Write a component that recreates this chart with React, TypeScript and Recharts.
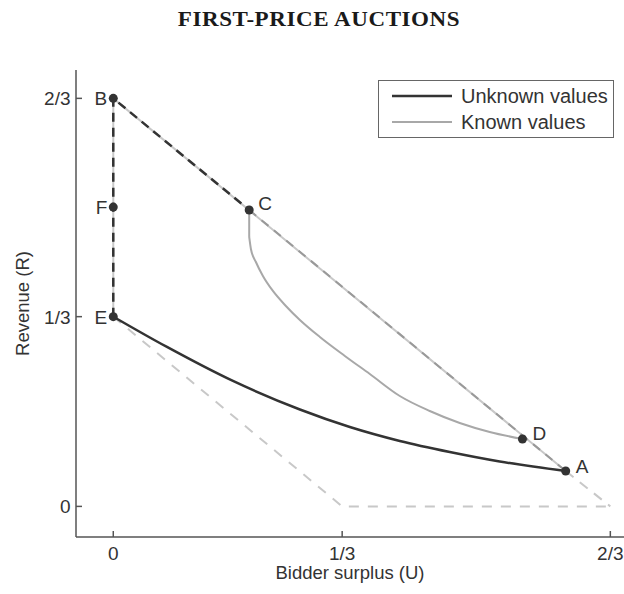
import React from 'react';
import { ComposedChart, Line, Scatter, XAxis, YAxis, Legend } from 'recharts';

// ---- data ----
const xTickValues = [0, 0.307, 2 / 3];
const xTickLabels = ['0', '1/3', '2/3'];
const yTickValues = [0, 0.31, 2 / 3];
const yTickLabels = ['0', '1/3', '2/3'];

// Unknown values: E -> A
const unknownU = [0, 0.072, 0.1605, 0.2503, 0.3173, 0.3843, 0.4513, 0.5183, 0.6068];
const unknownR = [0.31, 0.2605, 0.2049, 0.1583, 0.1297, 0.1069, 0.0889, 0.0734, 0.0578];

// Known values: drop below C, then curve to D
const knownDropU = [0.1823, 0.1823];
const knownDropR = [0.4843, 0.4402];
const knownU = [0.1823, 0.1846, 0.1913, 0.2007, 0.2141, 0.2315, 0.2503, 0.2771, 0.3106, 0.3441, 0.3843, 0.4245, 0.4647, 0.5049, 0.5488];
const knownR = [0.4402, 0.4206, 0.3993, 0.3765, 0.352, 0.3275, 0.3046, 0.2768, 0.2458, 0.2163, 0.1804, 0.1559, 0.1363, 0.1216, 0.1101];

// Known-values frontier E-B-A (solid, light)
const frontierU = [0, 0, 0.6068];
const frontierR = [0.31, 2 / 3, 0.0578];
// dark dashed E-B-C
const upperDashU = [0, 0, 0.1823];
const upperDashR = [0.31, 2 / 3, 0.4843];
// dashed C-A
const diagDashU = [0.1823, 0.6068];
const diagDashR = [0.4843, 0.0578];
// light dashed tail A -> (2/3, 0)
const tailU = [0.6068, 2 / 3];
const tailR = [0.0578, 0];
// light dashed lower bound E -> (1/3,0) -> (2/3,0)
const lowerU = [0, 0.307, 2 / 3];
const lowerR = [0.31, 0, 0];

const pointNames = ['B', 'F', 'E', 'C', 'D', 'A'];
const pointU = [0, 0, 0, 0.1823, 0.5488, 0.6068];
const pointR = [2 / 3, 0.489, 0.31, 0.4843, 0.1101, 0.0578];

const legendLabels = ['Unknown values', 'Known values'];

// ---- styles ----
const FONT = '"Liberation Sans", Arial, Helvetica, sans-serif';
const TEXT = '#333';
const DARK = '#333';
const KNOWN = '#a8a8a8';
const LIGHT = '#c8c8c8';
const AXIS = '#555';

const labelPlacement: Record<string, { dx: number; dy: number; anchor: string }> = {
  B: { dx: -6, dy: 7, anchor: 'end' },
  F: { dx: -6, dy: 7, anchor: 'end' },
  E: { dx: -6, dy: 7, anchor: 'end' },
  C: { dx: 9, dy: 0.5, anchor: 'start' },
  D: { dx: 10, dy: 1, anchor: 'start' },
  A: { dx: 10, dy: 2, anchor: 'start' },
};

const zip = (us: number[], rs: number[]) => us.map((u, i) => ({ u, r: rs[i] }));

const nearestIdx = (arr: number[], v: number) => {
  let best = 0;
  arr.forEach((a, i) => {
    if (Math.abs(a - v) < Math.abs(arr[best] - v)) best = i;
  });
  return best;
};

const XTick = (props: any) => {
  const { x, y, payload } = props;
  const i = nearestIdx(xTickValues, payload.value);
  return (
    <g>
      <line x1={x} y1={y} x2={x} y2={y - 6} stroke={AXIS} strokeWidth={1.5} />
      <text x={x} y={y + 23} textAnchor="middle" fontSize={19} fill={TEXT} fontFamily={FONT}>
        {xTickLabels[i]}
      </text>
    </g>
  );
};

const YTick = (props: any) => {
  const { x, y, payload } = props;
  const i = nearestIdx(yTickValues, payload.value);
  return (
    <g>
      <line x1={x} y1={y} x2={x + 6} y2={y} stroke={AXIS} strokeWidth={1.5} />
      <text x={x - 5.5} y={y + 7} textAnchor="end" fontSize={19} fill={TEXT} fontFamily={FONT}>
        {yTickLabels[i]}
      </text>
    </g>
  );
};

const PointShape = (props: any) => {
  const { cx, cy, payload } = props;
  const p = labelPlacement[payload.name];
  return (
    <g>
      <circle cx={cx} cy={cy} r={4.5} fill={DARK} />
      <text
        x={cx + p.dx}
        y={cy + p.dy}
        textAnchor={p.anchor as any}
        fontSize={19}
        fill={TEXT}
        fontFamily={FONT}
      >
        {payload.name}
      </text>
    </g>
  );
};

const YLabel = (props: any) => {
  const vb = props.viewBox || { x: 16, y: 70, width: 60, height: 467 };
  const cx = vb.x + 6;
  const cy = vb.y + vb.height / 2;
  return (
    <text
      x={cx}
      y={cy}
      transform={`rotate(-90 ${cx} ${cy})`}
      textAnchor="middle"
      dominantBaseline="central"
      fontSize={18.5}
      fill={TEXT}
      fontFamily={FONT}
    >
      Revenue (R)
    </text>
  );
};

const LegendBox = () => (
  <svg width={236} height={58} style={{ display: 'block' }}>
    <rect x={0.5} y={0.5} width={235} height={57} fill="#fff" stroke="#666" strokeWidth={1} />
    {legendLabels.map((lab, i) => (
      <g key={lab}>
        <line
          x1={14}
          x2={74}
          y1={16 + i * 26}
          y2={16 + i * 26}
          stroke={i === 0 ? DARK : KNOWN}
          strokeWidth={i === 0 ? 2.5 : 2}
        />
        <text x={83} y={23 + i * 26} fontSize={20} fill={TEXT} fontFamily={FONT}>
          {lab}
        </text>
      </g>
    ))}
  </svg>
);

export default function App() {
  const pointData = pointNames.map((name, i) => ({ name, u: pointU[i], r: pointR[i] }));
  return (
    <div style={{ position: 'absolute', left: 0, top: 0, width: 624, height: 594, background: '#fff' }}>
      <div
        style={{
          position: 'absolute',
          left: 119,
          top: 9,
          width: 400,
          textAlign: 'center',
          fontFamily: '"Liberation Serif", "Times New Roman", serif',
          fontSize: 20,
          fontWeight: 'bold',
          lineHeight: '21px',
          letterSpacing: 0.5,
          color: '#1a1a1a',
          whiteSpace: 'nowrap',
          transform: 'scaleX(1.15)',
          transformOrigin: '200px 50%',
        }}
      >
        FIRST-PRICE AUCTIONS
      </div>
      <ComposedChart width={624} height={594} margin={{ top: 70, right: 0, bottom: 7, left: 16 }}>
        <XAxis
          dataKey="u"
          type="number"
          domain={[-0.05, 0.685]}
          allowDataOverflow
          ticks={xTickValues}
          interval={0}
          tickSize={0}
          tickMargin={0}
          tickLine={false}
          tick={<XTick />}
          axisLine={{ stroke: AXIS, strokeWidth: 1.5 }}
          height={50}
          label={{
            value: 'Bidder surplus (U)',
            position: 'insideBottom',
            offset: 8,
            fontSize: 18.5,
            fill: TEXT,
            fontFamily: FONT,
          }}
        />
        <YAxis
          dataKey="r"
          type="number"
          domain={[-0.05, 0.713]}
          allowDataOverflow
          ticks={yTickValues}
          interval={0}
          tickSize={0}
          tickMargin={0}
          tickLine={false}
          tick={<YTick />}
          axisLine={{ stroke: AXIS, strokeWidth: 1.5 }}
          width={60}
          label={<YLabel />}
        />
        <Legend
          layout="vertical"
          align="center"
          verticalAlign="middle"
          wrapperStyle={{ position: 'absolute', left: 378, top: 80, width: 236, height: 58 }}
          content={() => <LegendBox />}
        />
        <Line data={zip(lowerU, lowerR)} dataKey="r" type="linear" stroke={LIGHT} strokeWidth={2} strokeDasharray="10 9" dot={false} activeDot={false} isAnimationActive={false} legendType="none" />
        <Line data={zip(frontierU, frontierR)} dataKey="r" type="linear" stroke={LIGHT} strokeWidth={2} dot={false} activeDot={false} isAnimationActive={false} legendType="none" />
        <Line data={zip(tailU, tailR)} dataKey="r" type="linear" stroke={LIGHT} strokeWidth={2} strokeDasharray="10 8" dot={false} activeDot={false} isAnimationActive={false} legendType="none" />
        <Line data={zip(diagDashU, diagDashR)} dataKey="r" type="linear" stroke="#999" strokeWidth={2} strokeDasharray="9 7" dot={false} activeDot={false} isAnimationActive={false} legendType="none" />
        <Line data={zip(upperDashU, upperDashR)} dataKey="r" type="linear" stroke={DARK} strokeWidth={2.5} strokeDasharray="9 6" dot={false} activeDot={false} isAnimationActive={false} legendType="none" />
        <Line data={zip(knownDropU, knownDropR)} dataKey="r" type="linear" stroke={KNOWN} strokeWidth={2} dot={false} activeDot={false} isAnimationActive={false} legendType="none" />
        <Line data={zip(knownU, knownR)} dataKey="r" type="monotone" stroke={KNOWN} strokeWidth={2} dot={false} activeDot={false} isAnimationActive={false} name="Known values" />
        <Line data={zip(unknownU, unknownR)} dataKey="r" type="monotone" stroke={DARK} strokeWidth={2.5} dot={false} activeDot={false} isAnimationActive={false} name="Unknown values" />
        <Scatter data={pointData} dataKey="r" shape={<PointShape />} isAnimationActive={false} legendType="none" />
      </ComposedChart>
    </div>
  );
}
